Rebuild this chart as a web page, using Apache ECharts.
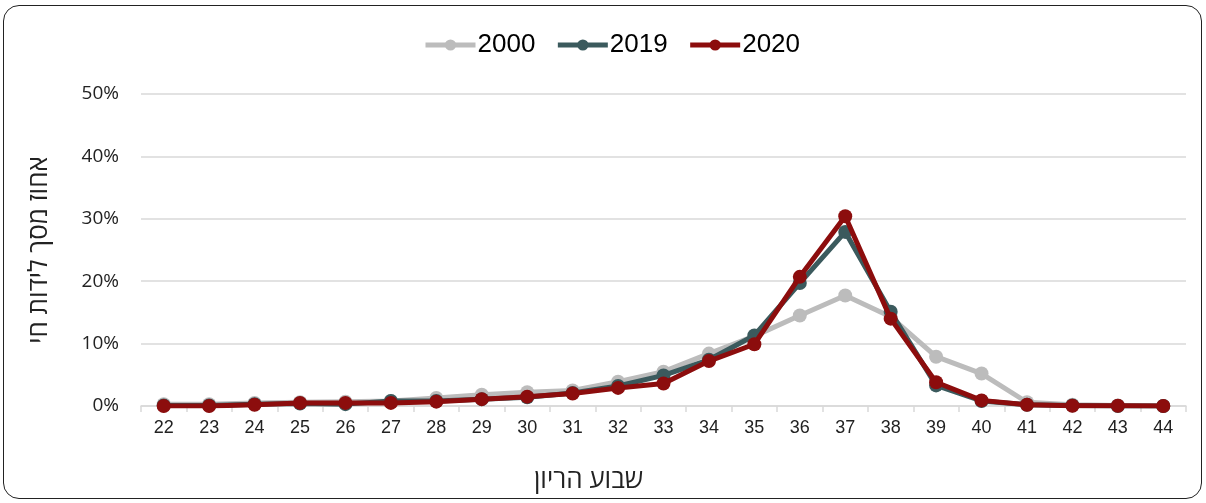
<!DOCTYPE html>
<html><head><meta charset="utf-8">
<script src="https://cdn.jsdelivr.net/npm/echarts@6/dist/echarts.min.js"></script>
<style>
html,body{margin:0;padding:0;background:#fff;}
#frame{position:absolute;left:3px;top:5px;width:1199px;height:494px;border:1px solid #222;border-radius:16px;box-sizing:border-box;}
#chart{position:absolute;left:0;top:0;width:1206px;height:503px;}
</style></head>
<body>
<div id="frame"></div>
<div id="chart"></div>
<script>
const weeks = ['22','23','24','25','26','27','28','29','30','31','32','33','34','35','36','37','38','39','40','41','42','43','44'];
const s2000 = [0.3,0.3,0.5,0.6,0.7,0.8,1.3,1.8,2.2,2.5,3.9,5.5,8.4,11.2,14.5,17.7,14.3,7.9,5.2,0.6,0.2,0.1,0.0];
const s2019 = [0.1,0.1,0.3,0.4,0.3,0.8,0.8,1.1,1.4,2.1,3.2,4.9,7.4,11.3,19.7,27.9,15.1,3.3,0.8,0.2,0.1,0.0,0.0];
const s2020 = [0.0,0.0,0.2,0.5,0.5,0.5,0.7,1.1,1.5,2.0,2.9,3.6,7.2,9.9,20.7,30.4,14.0,3.8,0.9,0.2,0.05,0.05,0.0];
const yTicks = ['0%','10%','20%','30%','40%','50%'];
const colors = ['#bcbcbc','#3b5a5d','#8c0d0d'];
const font = 'Liberation Sans, Arial, sans-serif';
const chart = echarts.init(document.getElementById('chart'));
function mk(name, data, i){
  return {name, type:'line', data, color: colors[i], symbol:'circle', symbolSize:14,
    lineStyle:{width:5, color: colors[i]}, itemStyle:{color: colors[i]}, z: 2+i};
}
chart.setOption({
  animation:false,
  textStyle:{fontFamily:font},
  legend:{top:27, left:418, itemWidth:50, itemHeight:14, itemGap:20,
    lineStyle:{width:5},
    textStyle:{fontSize:26, color:'#000', fontFamily:font, padding:[0,0,0,-3]},
    data:['2000','2019','2020']},
  grid:{left:141, right:20, top:94, bottom:97},
  xAxis:{type:'category', data:weeks, boundaryGap:true,
    name:'שבוע הריון', nameLocation:'middle', nameGap:62,
    nameTextStyle:{fontSize:26, color:'#222', fontFamily:'Open Sans, Noto Sans, sans-serif', padding:[0,150,0,0]},
    axisLine:{lineStyle:{color:'#d9d9d9', width:1.5}},
    axisTick:{show:true, length:6, lineStyle:{color:'#d9d9d9', width:1.5}},
    axisLabel:{fontSize:18, color:'#222', margin:13}},
  yAxis:{type:'value', min:0, max:50, interval:10,
    name:'אחוז מסך לידות חי', nameLocation:'middle', nameGap:88, nameRotate:90,
    nameTextStyle:{fontSize:26, color:'#222', fontFamily:'Open Sans, Noto Sans, sans-serif'},
    axisLine:{show:false}, axisTick:{show:false},
    splitLine:{lineStyle:{color:'#d9d9d9', width:1.5}},
    axisLabel:{fontSize:19, color:'#222', margin:22, fontFamily:'Open Sans, Noto Sans, sans-serif', formatter:(v)=>yTicks[Math.round(v/10)]}},
  series:[mk('2000',s2000,0), mk('2019',s2019,1), mk('2020',s2020,2)]
});
</script>
</body></html>
